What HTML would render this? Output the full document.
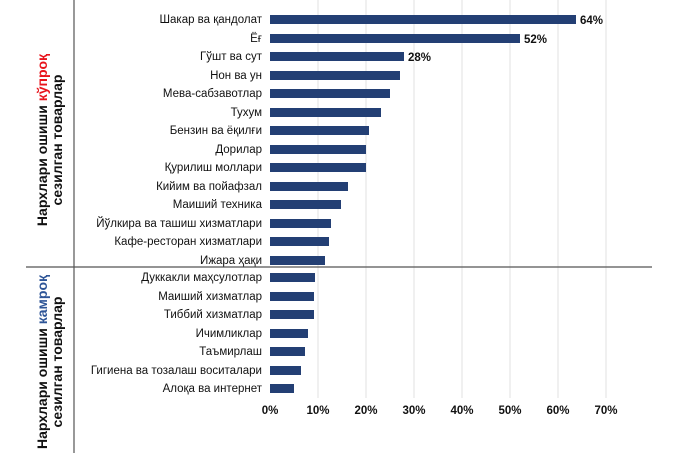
<!DOCTYPE html>
<html><head><meta charset="utf-8"><style>
body{margin:0;background:#fff;}
svg text{font-family:"Liberation Sans",sans-serif;}
</style></head><body>
<svg width="680" height="453" xmlns="http://www.w3.org/2000/svg">
<rect width="680" height="453" fill="#fff"/>
<g stroke="#e2e2e2" stroke-width="1">
<line x1="318" y1="0" x2="318" y2="398"/><line x1="366" y1="0" x2="366" y2="398"/>
<line x1="414" y1="0" x2="414" y2="398"/><line x1="462" y1="0" x2="462" y2="398"/>
<line x1="510" y1="0" x2="510" y2="398"/><line x1="558" y1="0" x2="558" y2="398"/>
<line x1="606" y1="0" x2="606" y2="398"/>
</g>
<line x1="74" y1="0" x2="74" y2="453" stroke="#555" stroke-width="1.2"/>
<line x1="26" y1="267" x2="652" y2="267" stroke="#555" stroke-width="1.2"/>
<g fill="#233f74">
<rect x="270" y="15" width="306" height="9"/>
<rect x="270" y="34" width="250" height="9"/>
<rect x="270" y="52" width="134" height="9"/>
<rect x="270" y="71" width="130" height="9"/>
<rect x="270" y="89" width="120" height="9"/>
<rect x="270" y="108" width="111" height="9"/>
<rect x="270" y="126" width="99" height="9"/>
<rect x="270" y="145" width="96" height="9"/>
<rect x="270" y="163" width="96" height="9"/>
<rect x="270" y="182" width="78" height="9"/>
<rect x="270" y="200" width="71" height="9"/>
<rect x="270" y="219" width="61" height="9"/>
<rect x="270" y="237" width="59" height="9"/>
<rect x="270" y="256" width="55" height="9"/>
<rect x="270" y="273" width="45" height="9"/>
<rect x="270" y="292" width="44" height="9"/>
<rect x="270" y="310" width="44" height="9"/>
<rect x="270" y="329" width="38" height="9"/>
<rect x="270" y="347" width="35" height="9"/>
<rect x="270" y="366" width="31" height="9"/>
<rect x="270" y="384" width="24" height="9"/>
</g>
<g font-size="11.5" fill="#111" text-anchor="end">
<text x="262" y="23">Шакар ва қандолат</text>
<text x="262" y="42">Ёғ</text>
<text x="262" y="60">Гўшт ва сут</text>
<text x="262" y="79">Нон ва ун</text>
<text x="262" y="97">Мева-сабзавотлар</text>
<text x="262" y="116">Тухум</text>
<text x="262" y="134">Бензин ва ёқилғи</text>
<text x="262" y="153">Дорилар</text>
<text x="262" y="171">Қурилиш моллари</text>
<text x="262" y="190">Кийим ва пойафзал</text>
<text x="262" y="208">Маиший  техника</text>
<text x="262" y="227">Йўлкира ва ташиш хизматлари</text>
<text x="262" y="245">Кафе-ресторан хизматлари</text>
<text x="262" y="264">Ижара ҳақи</text>
<text x="262" y="281">Дуккакли маҳсулотлар</text>
<text x="262" y="300">Маиший  хизматлар</text>
<text x="262" y="318">Тиббий хизматлар</text>
<text x="262" y="337">Ичимликлар</text>
<text x="262" y="355">Таъмирлаш</text>
<text x="262" y="374">Гигиена ва тозалаш воситалари</text>
<text x="262" y="392">Алоқа ва интернет</text>
</g>
<g font-size="11.5" font-weight="bold" fill="#111">
<text x="580" y="24">64%</text>
<text x="524" y="43">52%</text>
<text x="408" y="61">28%</text>
</g>
<g font-size="11.5" font-weight="bold" fill="#111" text-anchor="middle">
<text x="270" y="414">0%</text><text x="318" y="414">10%</text><text x="366" y="414">20%</text>
<text x="414" y="414">30%</text><text x="462" y="414">40%</text><text x="510" y="414">50%</text>
<text x="558" y="414">60%</text><text x="606" y="414">70%</text>
</g>
<g font-size="14" font-weight="bold" fill="#111" text-anchor="middle">
<text transform="translate(47,140) rotate(-90)">Нархлари ошиши <tspan fill="#e8141c">кўпроқ</tspan></text>
<text transform="translate(62,140) rotate(-90)">сезилган товарлар</text>
<text transform="translate(47,362) rotate(-90)">Нархлари ошиши <tspan fill="#2e5597">камроқ</tspan></text>
<text transform="translate(62,362) rotate(-90)">сезилган товарлар</text>
</g>
</svg>
</body></html>
